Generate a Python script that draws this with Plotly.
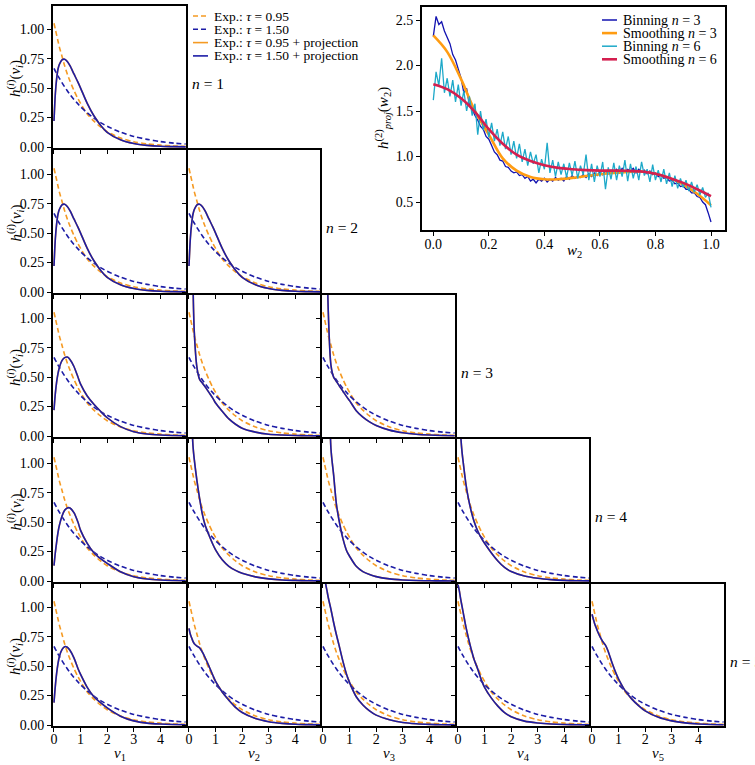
import plotly.graph_objects as go

S = 0
FW, FH = 755 - S, 765 - S
FONT = "Liberation Serif"

# ---------------- data ----------------
V_GRID = [0.0, 0.05, 0.1, 0.15, 0.2, 0.3, 0.4, 0.5, 0.6, 0.75, 0.9, 1.0,
          1.25, 1.5, 1.75, 2.0, 2.5, 3.0, 3.5, 4.0, 4.5, 4.95]

EXP_TAU_095 = [1.05, 1.00, 0.95, 0.90, 0.85, 0.77, 0.69, 0.62, 0.56, 0.48, 0.41, 0.37,
               0.28, 0.22, 0.17, 0.13, 0.076, 0.045, 0.026, 0.016, 0.009, 0.006]
EXP_TAU_150 = [0.667, 0.645, 0.625, 0.603, 0.584, 0.546, 0.511, 0.478, 0.447, 0.404, 0.366, 0.342,
               0.29, 0.245, 0.207, 0.176, 0.126, 0.09, 0.065, 0.046, 0.033, 0.025]

# projected densities h^(i)(v_i) for n = 1..5, i = 1..n
H_N1_V1 = [0.22, 0.45, 0.58, 0.66, 0.70, 0.74, 0.745, 0.725, 0.69, 0.62, 0.55, 0.50,
           0.37, 0.265, 0.185, 0.125, 0.062, 0.03, 0.014, 0.006, 0.003, 0.001]
H_N2_V1 = [0.22, 0.45, 0.58, 0.66, 0.70, 0.74, 0.745, 0.725, 0.69, 0.62, 0.55, 0.50,
           0.37, 0.265, 0.185, 0.125, 0.062, 0.03, 0.014, 0.006, 0.003, 0.001]
H_N2_V2 = [0.22, 0.45, 0.58, 0.66, 0.70, 0.74, 0.745, 0.725, 0.69, 0.62, 0.55, 0.50,
           0.37, 0.265, 0.185, 0.125, 0.062, 0.03, 0.014, 0.006, 0.003, 0.001]
H_N3_V1 = [0.22, 0.36, 0.46, 0.53, 0.58, 0.64, 0.665, 0.67, 0.65, 0.59, 0.50, 0.44,
           0.34, 0.27, 0.21, 0.155, 0.08, 0.037, 0.017, 0.008, 0.004, 0.002]
H_N3_V2 = [8.0, 4.0, 2.2, 1.3, 0.88, 0.58, 0.48, 0.45, 0.42, 0.37, 0.32, 0.28,
           0.21, 0.145, 0.10, 0.066, 0.033, 0.015, 0.008, 0.004, 0.002, 0.001]
H_N3_V3 = [8.0, 5.0, 2.8, 1.6, 1.05, 0.60, 0.50, 0.465, 0.43, 0.38, 0.33, 0.30,
           0.215, 0.16, 0.12, 0.09, 0.05, 0.028, 0.015, 0.008, 0.004, 0.002]
H_N4_V1 = [0.13, 0.24, 0.33, 0.41, 0.47, 0.55, 0.60, 0.62, 0.62, 0.58, 0.50, 0.43,
           0.32, 0.24, 0.19, 0.15, 0.078, 0.036, 0.017, 0.008, 0.004, 0.002]
H_N4_V2 = [5.0, 2.6, 1.45, 1.15, 1.03, 0.85, 0.70, 0.57, 0.48, 0.39, 0.31, 0.265,
           0.18, 0.125, 0.09, 0.065, 0.035, 0.018, 0.009, 0.005, 0.002, 0.001]
H_N4_V3 = [10.0, 7.0, 4.5, 3.0, 2.0, 1.12, 0.90, 0.66, 0.52, 0.36, 0.25, 0.21,
           0.125, 0.08, 0.055, 0.037, 0.018, 0.009, 0.004, 0.002, 0.001, 0.0005]
H_N4_V4 = [4.0, 1.8, 1.25, 1.1, 1.0, 0.82, 0.69, 0.59, 0.51, 0.42, 0.355, 0.32,
           0.24, 0.17, 0.115, 0.08, 0.042, 0.023, 0.012, 0.005, 0.002, 0.001]
H_N5_V1 = [0.19, 0.33, 0.44, 0.52, 0.58, 0.64, 0.665, 0.66, 0.635, 0.57, 0.48, 0.43,
           0.32, 0.24, 0.19, 0.145, 0.075, 0.035, 0.016, 0.008, 0.004, 0.002]
H_N5_V2 = [0.82, 0.77, 0.74, 0.71, 0.69, 0.67, 0.655, 0.62, 0.575, 0.50, 0.42, 0.37,
           0.28, 0.21, 0.15, 0.106, 0.055, 0.028, 0.014, 0.006, 0.003, 0.001]
H_N5_V3 = [1.5, 1.33, 1.2, 1.14, 1.08, 0.98, 0.87, 0.77, 0.68, 0.54, 0.42, 0.36,
           0.24, 0.17, 0.12, 0.084, 0.045, 0.022, 0.011, 0.005, 0.002, 0.001]
H_N5_V4 = [1.19, 1.14, 1.07, 1.01, 0.95, 0.83, 0.73, 0.64, 0.56, 0.47, 0.37, 0.32,
           0.23, 0.16, 0.105, 0.07, 0.033, 0.017, 0.008, 0.004, 0.002, 0.001]
H_N5_V5 = [0.94, 0.90, 0.86, 0.83, 0.80, 0.75, 0.71, 0.68, 0.63, 0.53, 0.44, 0.39,
           0.29, 0.22, 0.165, 0.12, 0.065, 0.035, 0.018, 0.009, 0.004, 0.002]

# (row n, column i, values)
PANELS = [
    (1, 1, H_N1_V1),
    (2, 1, H_N2_V1), (2, 2, H_N2_V2),
    (3, 1, H_N3_V1), (3, 2, H_N3_V2), (3, 3, H_N3_V3),
    (4, 1, H_N4_V1), (4, 2, H_N4_V2), (4, 3, H_N4_V3), (4, 4, H_N4_V4),
    (5, 1, H_N5_V1), (5, 2, H_N5_V2), (5, 3, H_N5_V3), (5, 4, H_N5_V4), (5, 5, H_N5_V5),
]

# inset: projected density h^(2)_proj(w_2)
W2_BIN = [round(i * 0.01, 2) for i in range(101)]
BIN_N3 = [2.32, 2.54, 2.45, 2.48, 2.38, 2.31, 2.24, 2.12, 2.06, 1.96,
          1.86, 1.70, 1.75, 1.56, 1.52, 1.45, 1.40, 1.33, 1.30, 1.22,
          1.19, 1.12, 1.05, 1.02, 0.96, 0.95, 0.89, 0.88, 0.84, 0.82,
          0.83, 0.79, 0.80, 0.76, 0.78, 0.73, 0.75, 0.71, 0.75, 0.73,
          0.76, 0.72, 0.75, 0.73, 0.77, 0.74, 0.76, 0.73, 0.78, 0.75,
          0.79, 0.76, 0.78, 0.77, 0.80, 0.77, 0.81, 0.78, 0.82, 0.79,
          0.83, 0.80, 0.84, 0.81, 0.85, 0.82, 0.86, 0.82, 0.87, 0.83,
          0.86, 0.84, 0.87, 0.82, 0.86, 0.83, 0.85, 0.81, 0.84, 0.80,
          0.82, 0.78, 0.80, 0.76, 0.77, 0.73, 0.74, 0.70, 0.71, 0.67,
          0.68, 0.64, 0.64, 0.60, 0.60, 0.56, 0.55, 0.50, 0.47, 0.38,
          0.28]
BIN_N6 = [1.62, 1.93, 1.78, 2.08, 1.70, 1.86, 1.66, 1.84, 1.60, 1.79,
          1.56, 1.72, 1.50, 1.66, 1.45, 1.58, 1.24, 1.50, 1.29, 1.41,
          1.21, 1.37, 1.17, 1.30, 1.12, 1.27, 1.08, 1.22, 1.02, 1.17,
          0.98, 1.14, 0.94, 1.08, 0.90, 1.05, 0.92, 1.02, 0.82, 0.97,
          0.86, 1.15, 0.82, 0.96, 0.78, 0.94, 0.80, 0.92, 0.77, 0.93,
          0.79, 0.95, 0.76, 0.90, 0.80, 1.02, 0.74, 0.92, 0.72, 0.90,
          0.78, 0.94, 0.64, 0.88, 0.75, 0.93, 0.74, 0.90, 0.78, 0.96,
          0.73, 0.92, 0.76, 0.89, 0.74, 0.94, 0.79, 0.86, 0.72, 0.91,
          0.74, 0.85, 0.72, 0.86, 0.70, 0.82, 0.67, 0.79, 0.65, 0.76,
          0.66, 0.74, 0.62, 0.72, 0.61, 0.69, 0.58, 0.66, 0.55, 0.60,
          0.44]
W2_SMOOTH = [0.0, 0.05, 0.1, 0.15, 0.2, 0.25, 0.3, 0.35, 0.4, 0.45, 0.5,
             0.55, 0.6, 0.65, 0.7, 0.75, 0.8, 0.85, 0.9, 0.95, 1.0]
SMOOTH_N3 = [2.33, 2.15, 1.85, 1.50, 1.24, 0.98, 0.845, 0.775, 0.75, 0.75, 0.765,
             0.785, 0.805, 0.82, 0.83, 0.835, 0.81, 0.765, 0.69, 0.59, 0.465]
SMOOTH_N6 = [1.795, 1.74, 1.64, 1.49, 1.30, 1.14, 1.02, 0.95, 0.905, 0.875, 0.86,
             0.85, 0.845, 0.845, 0.843, 0.835, 0.81, 0.765, 0.71, 0.64, 0.565]

Y_TICKS = [0.0, 0.25, 0.5, 0.75, 1.0]
X_TICKS = [0, 1, 2, 3, 4]
INSET_X_TICKS = [0.0, 0.2, 0.4, 0.6, 0.8, 1.0]
INSET_Y_TICKS = [0.5, 1.0, 1.5, 2.0, 2.5]

MAIN_LEGEND = ["Exp.: <i>τ</i> = 0.95", "Exp.: <i>τ</i> = 1.50",
               "Exp.: <i>τ</i> = 0.95 + projection", "Exp.: <i>τ</i> = 1.50 + projection"]
INSET_LEGEND = ["Binning <i>n</i> = 3", "Smoothing <i>n</i> = 3",
                "Binning <i>n</i> = 6", "Smoothing <i>n</i> = 6"]

# ---------------- style / layout ----------------
ORANGE = "#f59a23"
BLUE = "#1c1ca6"
C_BIN3 = "#1212b0"
C_SM3 = "#ff9c12"
C_BIN6 = "#1ea9c9"
C_SM6 = "#d41f4f"
DASH = "5px,3px"
LW = 2

COL_LINES = [52, 187, 321, 456, 590, 725]   # frame line centres (screen px)
ROW_LINES = [5, 149, 294, 438, 583, 727]
PX_PER_X = 27.0
PX_PER_Y = 119.5
INSET_LINES = (421, 726, 6, 231)             # left, right, top, bottom
INSET_X0, INSET_PXX = 433.3, 277.7             # screen x of w2 = 0, px per unit
INSET_Y05, INSET_PXY = 202.0, 91.0              # screen y of h = 0.5, px per unit


def px_x(x):
    return (x - S) / FW


def px_y(y):
    return 1 - (y - S) / FH


def label(x, y, text, size, angle=0, xanchor="center"):
    return dict(x=px_x(x), y=px_y(y), xref="paper", yref="paper", text=text, textangle=angle,
                xanchor=xanchor, yanchor="middle", showarrow=False, font=dict(size=size))


fig = go.Figure()
layout = dict(width=FW, height=FH, margin=dict(l=0, r=0, t=0, b=0, autoexpand=False),
              paper_bgcolor="white", plot_bgcolor="white", showlegend=False,
              font=dict(family=FONT, size=13, color="black"))
annotations = []
shapes = []

axis_common = dict(showline=True, mirror=True, linecolor="black", linewidth=LW,
                   ticks="outside", ticklen=4, tickwidth=1, tickcolor="black",
                   showgrid=False, zeroline=False, automargin=False,
                   tickfont=dict(family=FONT, size=14, color="black"))

for k, (r, c, vals) in enumerate(PANELS, start=1):
    lline, rline = COL_LINES[c - 1], COL_LINES[c]
    tline, bline = ROW_LINES[r - 1], ROW_LINES[r]
    d_left, d_right = lline + LW / 2, rline - LW / 2
    d_top, d_bot = tline + LW / 2, bline - LW / 2
    x_min = -(d_left - lline) / PX_PER_X
    x_max = (d_right - lline) / PX_PER_X
    y_min = -(bline - d_bot) / PX_PER_Y
    y_max = (bline - d_top) / PX_PER_Y

    xn = "x" if k == 1 else f"x{k}"
    yn = "y" if k == 1 else f"y{k}"
    sm = dict(shape="spline", smoothing=0.8)
    fig.add_trace(go.Scatter(x=V_GRID, y=EXP_TAU_095, xaxis=xn, yaxis=yn, mode="lines",
                             line=dict(color=ORANGE, width=1.6, dash=DASH, **sm), hoverinfo="skip"))
    fig.add_trace(go.Scatter(x=V_GRID, y=EXP_TAU_150, xaxis=xn, yaxis=yn, mode="lines",
                             line=dict(color=BLUE, width=1.6, dash=DASH, **sm), hoverinfo="skip"))
    fig.add_trace(go.Scatter(x=V_GRID, y=vals, xaxis=xn, yaxis=yn, mode="lines",
                             line=dict(color=ORANGE, width=1.6, **sm), hoverinfo="skip"))
    fig.add_trace(go.Scatter(x=V_GRID, y=vals, xaxis=xn, yaxis=yn, mode="lines",
                             line=dict(color=BLUE, width=1.6, **sm), hoverinfo="skip"))
    xkey = "xaxis" if k == 1 else f"xaxis{k}"
    ykey = "yaxis" if k == 1 else f"yaxis{k}"
    layout[xkey] = dict(axis_common, domain=[px_x(d_left), px_x(d_right)], range=[x_min, x_max],
                        anchor=yn, tickvals=X_TICKS, showticklabels=(r == 5), ticklabelstandoff=-5)
    layout[ykey] = dict(axis_common, domain=[px_y(d_bot), px_y(d_top)], range=[y_min, y_max],
                        anchor=xn, tickvals=Y_TICKS, tickformat=".2f", showticklabels=(c == 1))
    if c == 1:
        annotations.append(label(15, (tline + bline) / 2 + 2,
                                 "<i>h</i><sup>(<i>i</i>)</sup>(<i>v</i><sub><i>i</i></sub>)", 15, angle=-90))
    if c == r:
        annotations.append(label(rline + 3, (tline + bline) / 2 + 6, f"<i>n</i> = {r}", 15.5,
                                 xanchor="left"))
    if r == 5:
        annotations.append(label((lline + rline) / 2, 754, f"<i>v</i><sub>{c}</sub>", 15))

# inset
k = len(PANELS) + 1
xn, yn = f"x{k}", f"y{k}"
il, ir, it, ib = INSET_LINES
dl, dr, dt, db = il + LW / 2, ir - LW / 2, it + LW / 2, ib - LW / 2
for xs, ys, col, wd in [(W2_BIN, BIN_N3, C_BIN3, 1.3), (W2_SMOOTH, SMOOTH_N3, C_SM3, 2.6),
                        (W2_BIN, BIN_N6, C_BIN6, 1.3), (W2_SMOOTH, SMOOTH_N6, C_SM6, 2.6)]:
    shape = "spline" if xs is W2_SMOOTH else "linear"
    fig.add_trace(go.Scatter(x=xs, y=ys, xaxis=xn, yaxis=yn, mode="lines",
                             line=dict(color=col, width=wd, shape=shape), hoverinfo="skip"))
layout[f"xaxis{k}"] = dict(axis_common, domain=[px_x(dl), px_x(dr)],
                           range=[(dl - INSET_X0) / INSET_PXX, (dr - INSET_X0) / INSET_PXX], anchor=yn,
                           tickvals=INSET_X_TICKS, tickformat=".1f", ticklabelstandoff=-4)
layout[f"yaxis{k}"] = dict(axis_common, domain=[px_y(db), px_y(dt)],
                           range=[0.5 - (db - INSET_Y05) / INSET_PXY, 0.5 + (INSET_Y05 - dt) / INSET_PXY],
                           anchor=xn, tickvals=INSET_Y_TICKS, tickformat=".1f")
annotations.append(label(574, 251, "<i>w</i><sub>2</sub>", 15))
annotations.append(label(383, 118, "<i>h</i><sup>(2)</sup><sub><i>proj</i></sub>(<i>w</i><sub>2</sub>)",
                         15, angle=-90))

# legends (drawn manually for matplotlib-like compact spacing)
main_styles = [(ORANGE, DASH), (BLUE, DASH), (ORANGE, "solid"), (BLUE, "solid")]
for i, (txt, (col, dsh)) in enumerate(zip(MAIN_LEGEND, main_styles)):
    yy = 16 + 13.3 * i
    shapes.append(dict(type="line", xref="paper", yref="paper", x0=px_x(193), x1=px_x(208),
                       y0=px_y(yy), y1=px_y(yy), line=dict(color=col, width=1.6, dash=dsh)))
    annotations.append(label(212, yy, txt, 13.5, xanchor="left"))
inset_styles = [(C_BIN3, 1.5), (C_SM3, 2.6), (C_BIN6, 1.5), (C_SM6, 2.6)]
for i, (txt, (col, wd)) in enumerate(zip(INSET_LEGEND, inset_styles)):
    yy = 20 + 13.1 * i
    shapes.append(dict(type="line", xref="paper", yref="paper", x0=px_x(602), x1=px_x(617),
                       y0=px_y(yy), y1=px_y(yy), line=dict(color=col, width=wd)))
    annotations.append(label(621, yy, txt, 14, xanchor="left"))

layout["annotations"] = annotations
layout["shapes"] = shapes
fig.update_layout(**layout)
fig.write_html("out.html", config={"displayModeBar": False},
               post_script="document.body.style.margin='0px';")
